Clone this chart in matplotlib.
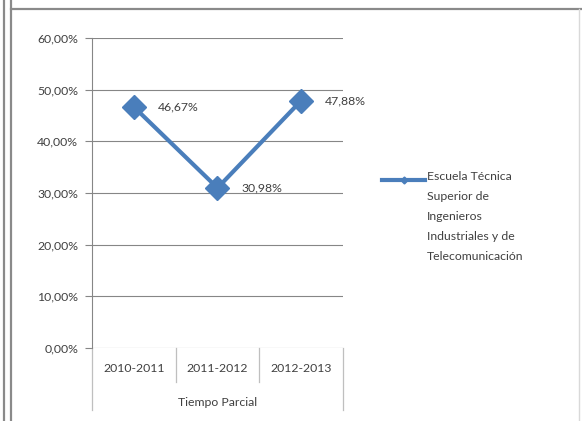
import matplotlib
matplotlib.use("Agg")
import matplotlib.pyplot as plt
from matplotlib.lines import Line2D
from matplotlib.ticker import FuncFormatter

# data
categories = ["2010-2011", "2011-2012", "2012-2013"]
group_label = "Tiempo Parcial"
values = [0.4667, 0.3098, 0.4788]
series_name = "Escuela Técnica\nSuperior de\nIngenieros\nIndustriales y de\nTelecomunicación"

blue = "#4A7EBB"
grid_col = "#868686"
txt_col = "#404040"
fs = 8.8

plt.rcParams["font.family"] = ["Lato", "DejaVu Sans"]

fig = plt.figure(figsize=(5.82, 4.21), dpi=100)
ax = fig.add_axes([92 / 582, 1 - 348 / 421, 251 / 582, 310 / 421])

x = list(range(len(categories)))
ax.plot(x, values, color=blue, linewidth=3, marker="D", markersize=12,
        markerfacecolor=blue, markeredgecolor=blue, zorder=3)

# data labels, comma decimal like the original
for xi, v in zip(x, values):
    ax.annotate(f"{v * 100:.2f}%".replace(".", ","), (xi, v), xytext=(17, 0),
                textcoords="offset points", ha="left", va="center",
                fontsize=fs, color=txt_col, annotation_clip=False)

ax.set_ylim(0, 0.6)
ax.set_xlim(-0.5, len(categories) - 0.5)
ax.set_yticks([i / 10 for i in range(7)])
ax.yaxis.set_major_formatter(FuncFormatter(lambda v, p: f"{v * 100:.2f}%".replace(".", ",")))
ax.grid(axis="y", color=grid_col, linewidth=0.8)
ax.set_axisbelow(True)
ax.tick_params(axis="y", length=5, width=0.8, color=grid_col, pad=5,
               labelsize=fs, labelcolor=txt_col)
ax.set_xticks([])

for s in ["top", "right", "bottom"]:
    ax.spines[s].set_visible(False)
ax.spines["left"].set_color(grid_col)
ax.spines["left"].set_linewidth(0.8)

# category axis with group box below
trans = ax.get_xaxis_transform()
n = len(categories)
for b in range(n + 1):
    xb = b - 0.5
    low = -0.11 if 0 < b < n else -0.2
    ax.plot([xb, xb], [0, low], transform=trans, color="#BFBFBF",
            linewidth=0.9, clip_on=False)
for xi, c in zip(x, categories):
    ax.text(xi, -0.065, c, transform=trans, ha="center", va="center",
            fontsize=fs, color=txt_col)
ax.text((n - 1) / 2, -0.175, group_label, transform=trans, ha="center",
        va="center", fontsize=fs, color=txt_col)

# legend drawn like Excel: handle beside the first line of text
fig.add_artist(Line2D([382 / 582, 425 / 582], [1 - 180 / 421] * 2, color=blue,
                      linewidth=3, transform=fig.transFigure))
fig.add_artist(Line2D([403.5 / 582], [1 - 180 / 421], color=blue, marker="D",
                      markersize=3.5, linestyle="none", transform=fig.transFigure))
fig.text(427 / 582, 1 - 171 / 421, series_name, ha="left", va="top",
         fontsize=fs, color=txt_col, linespacing=2.0)

# chart frame and the window edges on the left
for xf in [4 / 582, 11 / 582]:
    fig.add_artist(Line2D([xf, xf], [0, 1], color="#8A8A8A", linewidth=1.6,
                          transform=fig.transFigure))
fig.add_artist(Line2D([11 / 582, 1], [1 - 9 / 421] * 2, color="#8A8A8A",
                      linewidth=1.6, transform=fig.transFigure))
fig.add_artist(Line2D([579 / 582] * 2, [0, 1 - 9 / 421], color="#D9D9D9",
                      linewidth=1, transform=fig.transFigure))

fig.savefig("out.png", dpi=100)
